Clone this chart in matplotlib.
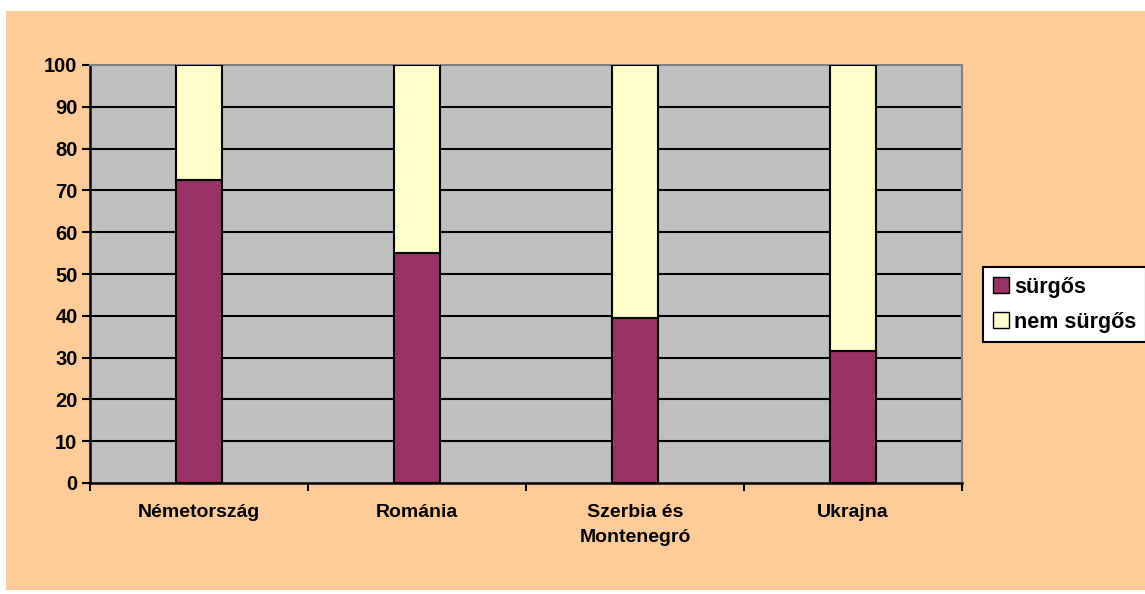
import matplotlib.pyplot as plt
import numpy as np
from matplotlib.patches import Rectangle, Patch

countries = ["Németország", "Románia", "Szerbia és\nMontenegró", "Ukrajna"]
surgos = [72.5, 55, 39.5, 31.5]
nem_surgos = [27.5, 45, 60.5, 68.5]
yticks = [0, 10, 20, 30, 40, 50, 60, 70, 80, 90, 100]

plt.rcParams['font.family'] = ['Liberation Sans', 'DejaVu Sans']

fig = plt.figure(figsize=(11.45, 5.94), dpi=100)
fig.patch.set_facecolor("white")
# orange chart area
fig.patches.append(Rectangle((6/1145, 4/594), 1 - 6/1145, (594-11-4)/594,
                             transform=fig.transFigure, facecolor="#FFCC99",
                             edgecolor="none", zorder=-10))

ax = fig.add_axes([90/1145, (594-483)/594, 872/1145, 418/594])
ax.set_facecolor("#C0C0C0")

x = np.arange(len(countries))
w = 0.21
ax.bar(x, surgos, w, color="#993366", edgecolor="black", linewidth=1.5, zorder=3)
ax.bar(x, nem_surgos, w, bottom=surgos, color="#FFFFCC", edgecolor="black",
       linewidth=1.5, zorder=3)

ax.set_xlim(-0.5, len(countries) - 0.5)
ax.set_ylim(0, 100)
ax.set_yticks(yticks)
for v in yticks[1:-1]:
    ax.axhline(v, color="black", linewidth=1.5, zorder=1)

ax.set_xticks(x)
ax.set_xticklabels(countries, fontsize=14, fontweight="bold", linespacing=1.6)
ax.set_xticks(np.arange(len(countries) + 1) - 0.5, minor=True)
ax.tick_params(axis="x", which="major", length=0, pad=15)
ax.tick_params(axis="x", which="minor", length=6, width=1.5, direction="out")
ax.tick_params(axis="y", length=6, width=1.5, labelsize=14.5, pad=3)
for lab in ax.get_yticklabels():
    lab.set_fontweight("bold")

ax.spines["left"].set_linewidth(1.8)
ax.spines["bottom"].set_linewidth(1.8)
ax.spines["top"].set_color("#808080")
ax.spines["right"].set_color("#808080")
ax.spines["top"].set_linewidth(1.5)
ax.spines["right"].set_linewidth(1.5)

handles = [Patch(facecolor="#993366", edgecolor="black", label="sürgős"),
           Patch(facecolor="#FFFFCC", edgecolor="black", label="nem sürgős")]
leg = fig.legend(handles=handles, loc="upper left",
                 bbox_to_anchor=(983/1145, (594-267)/594),
                 frameon=True, fancybox=False, edgecolor="black",
                 facecolor="white", framealpha=1,
                 fontsize=15.5, handlelength=0.75, handleheight=0.75,
                 handletextpad=0.25, borderpad=0.45, borderaxespad=0,
                 labelspacing=0.65)
leg.get_frame().set_linewidth(1.5)
for t in leg.get_texts():
    t.set_fontweight("bold")

fig.savefig("out.png", dpi=100, facecolor=fig.get_facecolor())
